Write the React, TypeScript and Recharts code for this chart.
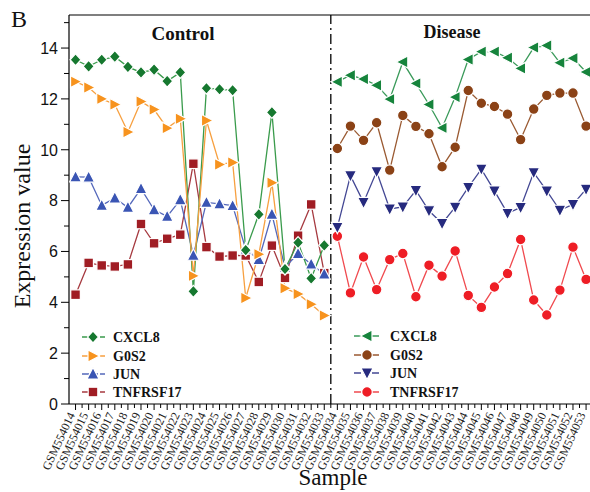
import React from 'react';
import { LineChart, Line, XAxis, YAxis, ReferenceLine } from 'recharts';

const samples = [
  'GSM554014', 'GSM554015', 'GSM554016', 'GSM554017', 'GSM554018', 'GSM554019', 'GSM554020', 'GSM554021',
  'GSM554022', 'GSM554023', 'GSM554024', 'GSM554025', 'GSM554026', 'GSM554027', 'GSM554028', 'GSM554029',
  'GSM554030', 'GSM554031', 'GSM554032', 'GSM554033', 'GSM554034', 'GSM554035', 'GSM554036', 'GSM554037',
  'GSM554038', 'GSM554039', 'GSM554040', 'GSM554041', 'GSM554042', 'GSM554043', 'GSM554044', 'GSM554045',
  'GSM554046', 'GSM554047', 'GSM554048', 'GSM554049', 'GSM554050', 'GSM554051', 'GSM554052', 'GSM554053',
];

const controlCXCL8 = [13.54, 13.28, 13.54, 13.66, 13.26, 13.04, 13.15, 12.7, 13.04, 4.43, 12.42, 12.38, 12.34, 6.05, 7.46, 11.47, 5.31, 6.35, 4.94, 6.24];
const controlG0S2 = [12.68, 12.45, 12.0, 11.78, 10.7, 11.9, 11.58, 10.85, 11.22, 5.04, 11.15, 9.42, 9.5, 4.17, 5.89, 8.7, 4.55, 4.33, 3.92, 3.48];
const controlJUN = [8.93, 8.92, 7.81, 8.1, 7.73, 8.47, 7.64, 7.38, 8.03, 5.85, 7.93, 7.87, 7.8, 6.09, 5.68, 7.46, 5.37, 5.92, 5.5, 5.11];
const controlTNFRSF17 = [4.3, 5.55, 5.45, 5.41, 5.49, 7.08, 6.32, 6.5, 6.66, 9.45, 6.17, 5.8, 5.84, 5.84, 4.8, 6.23, 4.96, 6.62, 7.85, 5.15];

const diseaseCXCL8 = [12.67, 12.93, 12.78, 12.54, 11.99, 13.45, 12.61, 11.78, 10.86, 12.07, 13.55, 13.86, 13.86, 13.62, 13.2, 14.02, 14.1, 13.42, 13.6, 13.06];
const diseaseG0S2 = [10.05, 10.93, 10.37, 11.06, 9.2, 11.35, 10.92, 10.63, 9.33, 10.1, 12.33, 11.83, 11.7, 11.4, 10.4, 11.6, 12.14, 12.23, 12.23, 10.93];
const diseaseJUN = [6.95, 8.98, 7.93, 9.14, 7.67, 7.75, 8.4, 7.6, 7.1, 7.74, 8.52, 9.24, 8.38, 7.5, 7.73, 9.1, 8.38, 7.62, 7.85, 8.45];
const diseaseTNFRSF17 = [6.6, 4.37, 5.78, 4.5, 5.68, 5.92, 4.22, 5.46, 5.03, 6.02, 4.27, 3.8, 4.6, 5.13, 6.47, 4.09, 3.5, 4.48, 6.17, 4.9];

const yTicks = [0, 1, 2, 3, 4, 5, 6, 7, 8, 9, 10, 11, 12, 13, 14, 15];
const groupLabels = ['Control', 'Disease'];
const geneNames = ['CXCL8', 'G0S2', 'JUN', 'TNFRSF17'];

const nControl = controlCXCL8.length;

const data = samples.map((s, i) => ({
  i,
  sample: s,
  cC: i < nControl ? controlCXCL8[i] : null,
  cG: i < nControl ? controlG0S2[i] : null,
  cJ: i < nControl ? controlJUN[i] : null,
  cT: i < nControl ? controlTNFRSF17[i] : null,
  dC: i >= nControl ? diseaseCXCL8[i - nControl] : null,
  dG: i >= nControl ? diseaseG0S2[i - nControl] : null,
  dJ: i >= nControl ? diseaseJUN[i - nControl] : null,
  dT: i >= nControl ? diseaseTNFRSF17[i - nControl] : null,
}));

const xTicks: number[] = [];
for (let k = 0; k < samples.length; k++) {
  xTicks.push(k);
  if (k < samples.length - 1) xTicks.push(k + 0.5);
}

const SERIF = '"Liberation Serif", "Times New Roman", serif';
const SANS = '"Liberation Sans", Arial, sans-serif';

type Shape = 'diamond' | 'right' | 'up' | 'square' | 'left' | 'circle' | 'down';

const Marker = ({ shape, cx, cy, fill }: { shape: Shape; cx: number; cy: number; fill: string }) => {
  const common = { fill, stroke: '#ffffff', strokeWidth: 1.2 };
  switch (shape) {
    case 'diamond':
      return <polygon {...common} points={`${cx},${cy - 6} ${cx + 5.5},${cy} ${cx},${cy + 6} ${cx - 5.5},${cy}`} />;
    case 'right':
      return <polygon {...common} points={`${cx - 5},${cy - 6} ${cx + 6.5},${cy} ${cx - 5},${cy + 6}`} />;
    case 'left':
      return <polygon {...common} points={`${cx + 5},${cy - 6} ${cx - 6.5},${cy} ${cx + 5},${cy + 6}`} />;
    case 'up':
      return <polygon {...common} points={`${cx},${cy - 6.5} ${cx + 6},${cy + 5} ${cx - 6},${cy + 5}`} />;
    case 'down':
      return <polygon {...common} points={`${cx},${cy + 6.5} ${cx + 6},${cy - 5} ${cx - 6},${cy - 5}`} />;
    case 'square':
      return <rect {...common} x={cx - 4.8} y={cy - 4.8} width={9.6} height={9.6} />;
    default:
      return <circle {...common} cx={cx} cy={cy} r={5.3} />;
  }
};

const makeDot = (shape: Shape, fill: string, id: string) => (props: any) => {
  const { cx, cy, index, value } = props;
  if (value == null || cx == null || cy == null || isNaN(cx) || isNaN(cy)) {
    return <g key={`${id}-e-${index}`} />;
  }
  return (
    <g key={`${id}-${index}`}>
      <Marker shape={shape} cx={cx} cy={cy} fill={fill} />
    </g>
  );
};

const series: { key: string; shape: Shape; marker: string; line: string }[] = [
  { key: 'cT', shape: 'square', marker: '#a01d24', line: '#a63a40' },
  { key: 'cJ', shape: 'up', marker: '#3a55b4', line: '#5468bb' },
  { key: 'cC', shape: 'diamond', marker: '#16782f', line: '#3a9b4c' },
  { key: 'cG', shape: 'right', marker: '#f7931e', line: '#f7a040' },
  { key: 'dT', shape: 'circle', marker: '#ee1d25', line: '#f04a4f' },
  { key: 'dJ', shape: 'down', marker: '#262a7e', line: '#444894' },
  { key: 'dG', shape: 'circle', marker: '#8b4216', line: '#9a5a32' },
  { key: 'dC', shape: 'left', marker: '#16843c', line: '#3a9a5a' },
];

const XTick = (props: any) => {
  const { x, y, payload } = props;
  const v = payload.value;
  const isMajor = Math.abs(v - Math.round(v)) < 1e-6;
  if (!isMajor) {
    return <line x1={x} y1={y} x2={x} y2={y + 4} stroke="#000" strokeWidth={1} />;
  }
  return (
    <g>
      <line x1={x} y1={y} x2={x} y2={y + 6} stroke="#000" strokeWidth={1} />
      <text
        transform={`translate(${x - 4},${y + 9}) rotate(-65)`}
        textAnchor="end"
        dy="0.35em"
        fontFamily={SERIF}
        fontSize={12}
        fill="#222"
      >
        {samples[Math.round(v)]}
      </text>
    </g>
  );
};

const YTick = (props: any) => {
  const { x, y, payload } = props;
  const v = payload.value;
  const major = v % 2 === 0;
  return (
    <g>
      <line x1={x} y1={y} x2={x - (major ? 8 : 5)} y2={y} stroke="#000" strokeWidth={1} />
      {major && (
        <text x={x - 11} y={y} dy="0.36em" textAnchor="end" fontFamily={SANS} fontSize={16} fill="#111">
          {v}
        </text>
      )}
    </g>
  );
};

const legendLeft = [
  { shape: 'diamond' as Shape, marker: '#16782f', line: '#3a9b4c', y: 337 },
  { shape: 'right' as Shape, marker: '#f7931e', line: '#f7a040', y: 356 },
  { shape: 'up' as Shape, marker: '#3a55b4', line: '#5468bb', y: 374 },
  { shape: 'square' as Shape, marker: '#a01d24', line: '#a63a40', y: 392 },
];
const legendRight = [
  { shape: 'left' as Shape, marker: '#16843c', line: '#3a9a5a', y: 336 },
  { shape: 'circle' as Shape, marker: '#8b4216', line: '#9a5a32', y: 355 },
  { shape: 'down' as Shape, marker: '#262a7e', line: '#444894', y: 373 },
  { shape: 'circle' as Shape, marker: '#ee1d25', line: '#f04a4f', y: 392 },
];

const LegendBlock = ({ items, x1, x2, cx, tx }: any) => (
  <g>
    {items.map((it: any, k: number) => (
      <g key={k}>
        <line x1={x1} y1={it.y} x2={x2} y2={it.y} stroke={it.line} strokeWidth={1.4} strokeDasharray="7 2" />
        <Marker shape={it.shape} cx={cx} cy={it.y} fill={it.marker} />
        <text x={tx} y={it.y} dy="0.35em" fontFamily={SERIF} fontWeight="bold" fontSize={14} fill="#111">
          {geneNames[k]}
        </text>
      </g>
    ))}
  </g>
);

export default function App() {
  return (
    <div style={{ position: 'absolute', left: 0, top: 0, width: 590, height: 492, background: '#fff' }}>
      <LineChart width={590} height={492} data={data} margin={{ top: 15, right: 0, bottom: 0, left: 0 }}>
        <XAxis
          dataKey="i"
          type="number"
          domain={[-0.5, 39.3]}
          ticks={xTicks}
          interval={0}
          allowDataOverflow
          height={88}
          tickSize={0}
          tickMargin={0}
          tickLine={false}
          axisLine={{ stroke: '#000', strokeWidth: 1.2 }}
          tick={<XTick />}
        />
        <YAxis
          type="number"
          domain={[0, 15.3]}
          ticks={yTicks}
          interval={0}
          allowDataOverflow
          width={69}
          tickSize={0}
          tickMargin={0}
          tickLine={false}
          axisLine={{ stroke: '#000', strokeWidth: 1.2 }}
          tick={<YTick />}
        />
        <ReferenceLine y={15.3} stroke="#000" strokeWidth={1.2} ifOverflow="extendDomain" />
        <ReferenceLine x={19.5} stroke="#000" strokeWidth={1.3} strokeDasharray="10 4 2 4" />
        {series.map((s) => (
          <Line
            key={s.key}
            dataKey={s.key}
            type="linear"
            stroke={s.line}
            strokeWidth={1.3}
            isAnimationActive={false}
            connectNulls={false}
            dot={makeDot(s.shape, s.marker, s.key)}
            activeDot={false}
          />
        ))}
      </LineChart>
      <svg
        width={590}
        height={492}
        style={{ position: 'absolute', left: 0, top: 0, pointerEvents: 'none' }}
      >
        <text x={11} y={27} fontFamily={SERIF} fontSize={24} fill="#111">B</text>
        <text x={183} y={40} textAnchor="middle" fontFamily={SERIF} fontWeight="bold" fontSize={19} fill="#111">
          {groupLabels[0]}
        </text>
        <text x={452} y={38} textAnchor="middle" fontFamily={SERIF} fontWeight="bold" fontSize={18} fill="#111">
          {groupLabels[1]}
        </text>
        <text
          transform="translate(30,226) rotate(-90)"
          textAnchor="middle"
          fontFamily={SERIF}
          fontSize={24}
          fill="#111"
        >
          Expression value
        </text>
        <text x={333} y={485} textAnchor="middle" fontFamily={SERIF} fontSize={23} fill="#111">
          Sample
        </text>
        <LegendBlock items={legendLeft} x1={82} x2={105} cx={93} tx={113} />
        <LegendBlock items={legendRight} x1={354} x2={380} cx={367} tx={390} />
      </svg>
    </div>
  );
}
